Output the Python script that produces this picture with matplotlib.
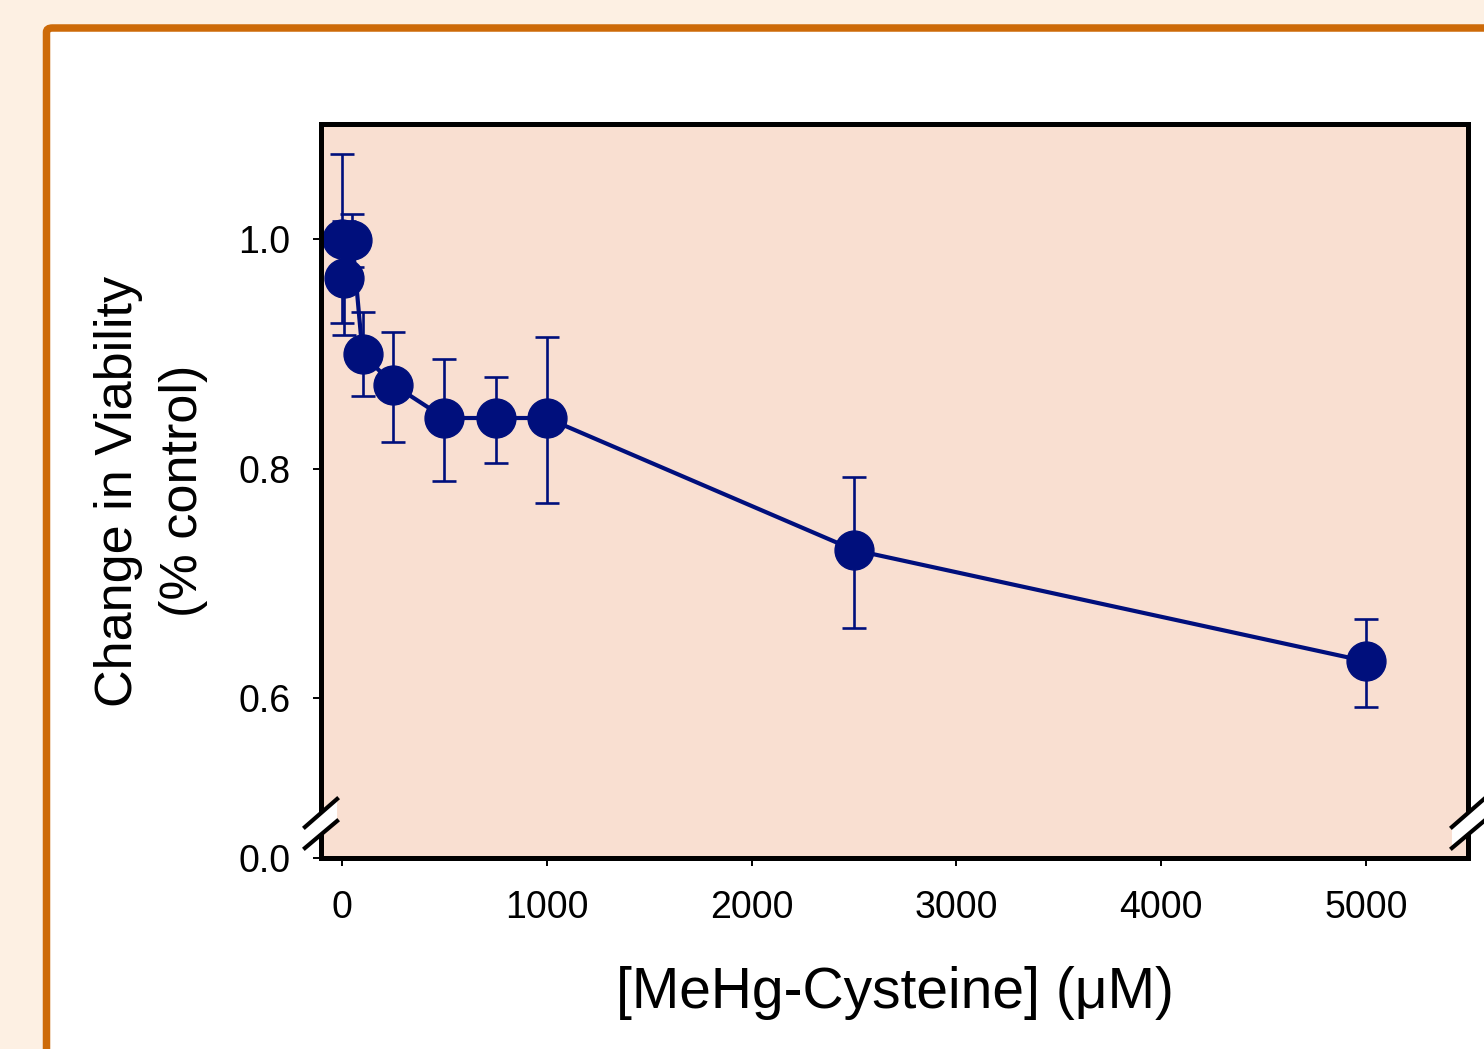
import matplotlib
matplotlib.use("Agg")
import matplotlib.pyplot as plt
from matplotlib.patches import FancyBboxPatch, Polygon

plt.rcParams['font.family'] = ['Liberation Sans', 'DejaVu Sans']

# concentrazioni MeHg-Cysteine (uM) e vitalita' relativa
conc = [0, 10, 50, 100, 250, 500, 750, 1000, 2500, 5000]
viability = [1.000, 0.966, 0.999, 0.900, 0.873, 0.844, 0.844, 0.844, 0.729, 0.632]
err_hi = [0.074, 0.050, 0.023, 0.036, 0.046, 0.051, 0.036, 0.071, 0.064, 0.037]
err_lo = [0.073, 0.050, 0.023, 0.037, 0.050, 0.055, 0.039, 0.074, 0.068, 0.040]

x_ticks = [0, 1000, 2000, 3000, 4000, 5000]
y_ticks = [0.6, 0.8, 1.0]
# asse spezzato: lo 0.0 sta in fondo all'asse
y_break_bottom = 0.4606
y_top = 1.1002

NAVY = '#000f7c'
PINK = '#f9dfd1'
CREAM = '#fdf0e3'
ORANGE = '#cd6a08'

fig = plt.figure(figsize=(14.84, 10.49), dpi=100, facecolor=CREAM)

# cornice arancione con pannello bianco
frame = FancyBboxPatch((46.5 / 1484, -0.2), 1.2, 0.2 + (1 - 28 / 1049),
                       boxstyle="round,pad=0,rounding_size=0.004",
                       transform=fig.transFigure, facecolor='white',
                       edgecolor=ORANGE, linewidth=5.4, zorder=-5)
fig.patches.append(frame)

ax = fig.add_axes([321 / 1484, 1 - 858 / 1049, (1468 - 321) / 1484, (858 - 124) / 1049])
ax.set_facecolor(PINK)

ax.errorbar(conc, viability, yerr=[err_lo, err_hi], fmt='o-', color=NAVY,
            ms=28, lw=3.0, elinewidth=1.9, capsize=8.5, capthick=1.9)

ax.set_xlim(-103, 5498)
ax.set_ylim(y_break_bottom, y_top)
ax.set_xticks(x_ticks)
ax.set_xticklabels([str(t) for t in x_ticks])
ax.set_yticks([y_break_bottom] + y_ticks)
ax.set_yticklabels(['0.0'] + ['%.1f' % t for t in y_ticks])

for s in ax.spines.values():
    s.set_linewidth(3.6)
    s.set_color('black')

ax.tick_params(axis='both', direction='out', length=6, width=1.4, labelsize=27)
ax.tick_params(axis='y', pad=16)
ax.tick_params(axis='x', pad=17)

ax.set_xlabel('[MeHg-Cysteine] (\u03bcM)', fontsize=41, labelpad=29)
ax.set_ylabel('Change in Viability\n(% control)', fontsize=37.5, labelpad=22,
              linespacing=1.42)

# segni di interruzione sull'asse y (sinistra e destra)
for xc in (0.0, 1.0):
    l1 = [(xc - 0.0140, 0.0422), (xc + 0.0140, 0.0804)]
    l2 = [(xc - 0.0140, 0.0136), (xc + 0.0140, 0.0504)]
    gap = Polygon([l1[0], l1[1], l2[1], l2[0]], closed=True, facecolor='white',
                  edgecolor='none', transform=ax.transAxes, clip_on=False, zorder=5)
    ax.add_patch(gap)
    for ln in (l1, l2):
        ax.plot([ln[0][0], ln[1][0]], [ln[0][1], ln[1][1]], color='black', lw=3.0,
                transform=ax.transAxes, clip_on=False, zorder=6)

fig.savefig('out.png', dpi=100, facecolor=CREAM)
